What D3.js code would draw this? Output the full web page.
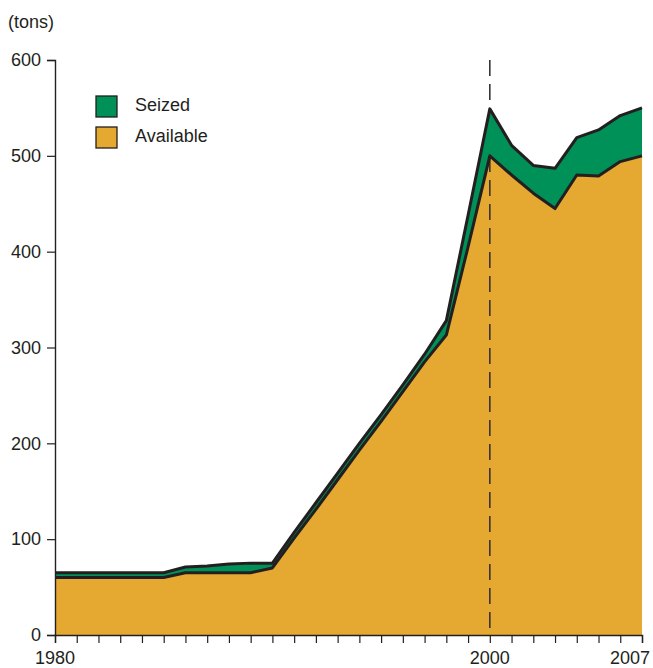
<!DOCTYPE html>
<html>
<head>
<meta charset="utf-8">
<script src="https://cdn.jsdelivr.net/npm/d3@7"></script>
<style>
  html, body { margin: 0; padding: 0; background: #fff; }
  svg text { font-family: "Liberation Sans", Arial, sans-serif; fill: #231f20; }
</style>
</head>
<body>
<svg id="chart" width="653" height="668"></svg>
<script>
// data (tons)
var years = d3.range(1980, 2008);
var available = [60,60,60,60,60,60,65,65,65,65,70,101,131,162,193,223,254,285,313,405,500,480,461,445,480,479,494,500];
var seized = [5,5,5,5,5,5,6,7,9,10,5,6,7,7,7,7,7,8,15,33,49,31,29,42,39,48,48,50];
var yTicks = [0,100,200,300,400,500,600];
var xLabels = [1980, 2000, 2007];
var keys = ["available", "seized"];
var names = {available: "Available", seized: "Seized"};

var color = d3.scaleOrdinal()
  .domain(keys)
  .range(["#e5a830", "#009159"]);

var ink = "#231f20";

var svg = d3.select("#chart");

var x = d3.scaleLinear().domain([1980, 2007]).range([55, 642]);
var y = d3.scaleLinear().domain([0, 600]).range([635, 60]);

// build rows for the stack
var rows = years.map(function(yr, i) {
  return {year: yr, available: available[i], seized: seized[i]};
});
var series = d3.stack().keys(keys)(rows);

var area = d3.area()
  .x(function(d) { return x(d.data.year); })
  .y0(function(d) { return y(d[0]); })
  .y1(function(d) { return y(d[1]); });

var line = d3.line()
  .x(function(d) { return x(d.data.year); })
  .y(function(d) { return y(d[1]); });

// available area first, then the dashed marker, then the seized band on top
svg.append("path")
  .datum(series[0])
  .attr("d", area)
  .attr("fill", color("available"));

svg.append("line")
  .attr("x1", x(2000)).attr("x2", x(2000))
  .attr("y1", y(600)).attr("y2", y(0))
  .attr("stroke", "#3a3530")
  .attr("stroke-width", 1.6)
  .attr("stroke-dasharray", "16,8");

svg.append("path")
  .datum(series[1])
  .attr("d", area)
  .attr("fill", color("seized"));

svg.selectAll(".edge")
  .data(series)
  .enter()
  .append("path")
  .attr("class", "edge")
  .attr("d", line)
  .attr("fill", "none")
  .attr("stroke", ink)
  .attr("stroke-width", 3)
  .attr("stroke-linejoin", "round");

// y axis
var yAxis = svg.append("g")
  .attr("transform", "translate(55,0)")
  .call(d3.axisLeft(y).tickValues(yTicks).tickSize(8).tickPadding(6));

// x axis
var xAxis = svg.append("g")
  .attr("transform", "translate(0,635)")
  .call(d3.axisBottom(x).tickValues(years).tickSize(8).tickFormat(""));

[yAxis, xAxis].forEach(function(g) {
  g.select(".domain").attr("stroke", ink).attr("stroke-width", 1.4);
  g.selectAll(".tick line").attr("stroke", ink).attr("stroke-width", 1.2);
  g.selectAll("text")
    .attr("font-size", "18px")
    .attr("font-family", "\"Liberation Sans\", Arial, sans-serif")
    .attr("fill", ink);
});

svg.selectAll(".xlab")
  .data(xLabels)
  .enter()
  .append("text")
  .attr("class", "xlab")
  .attr("x", function(d) { return d === 2007 ? 650 : x(d); })
  .attr("y", 664)
  .attr("text-anchor", function(d) { return d === 2007 ? "end" : "middle"; })
  .attr("font-size", "18px")
  .text(function(d) { return d; });

svg.append("text")
  .attr("x", 8)
  .attr("y", 28)
  .attr("font-size", "18px")
  .text("(tons)");

// legend
var legend = svg.selectAll(".legend")
  .data(["seized", "available"])
  .enter()
  .append("g")
  .attr("class", "legend")
  .attr("transform", function(d, i) { return "translate(96," + (96 + i * 31) + ")"; });

legend.append("rect")
  .attr("width", 21)
  .attr("height", 21)
  .attr("fill", function(d) { return color(d); })
  .attr("stroke", ink)
  .attr("stroke-width", 1.3);

legend.append("text")
  .attr("x", 39)
  .attr("y", 15)
  .attr("font-size", "18px")
  .text(function(d) { return names[d]; });
</script>
</body>
</html>
